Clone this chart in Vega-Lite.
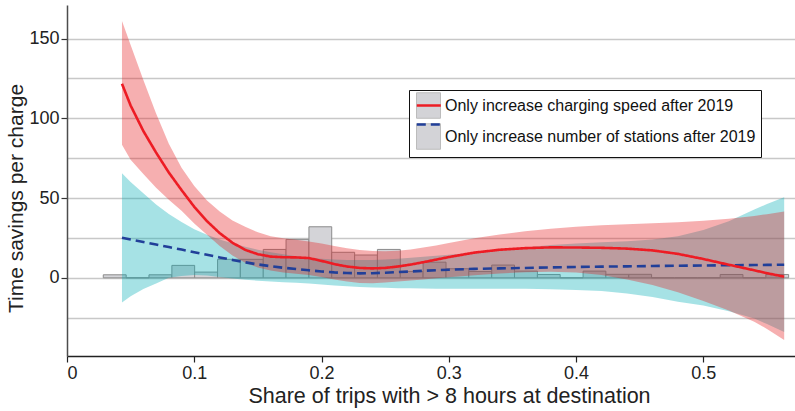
{
  "$schema": "https://vega.github.io/schema/vega-lite/v6.json",
  "width": 728,
  "height": 351,
  "autosize": {"type": "none"},
  "padding": {"left": 67, "top": 5, "right": 0, "bottom": 55},
  "background": "white",
  "config": {
    "view": {"stroke": null},
    "font": "Liberation Sans",
    "axis": {"labelFont": "Liberation Sans", "titleFont": "Liberation Sans", "titleFontWeight": "normal", "labelColor": "#222", "titleColor": "#222"},
    "legend": {"labelFont": "Liberation Sans"}
  },
  "datasets": {
    "hist": [
      {"bin_start": 0.0285, "bin_end": 0.0465, "count": 1.9},
      {"bin_start": 0.0465, "bin_end": 0.0644, "count": 0},
      {"bin_start": 0.0644, "bin_end": 0.0824, "count": 1.9},
      {"bin_start": 0.0824, "bin_end": 0.1003, "count": 7.8},
      {"bin_start": 0.1003, "bin_end": 0.1183, "count": 3.6},
      {"bin_start": 0.1183, "bin_end": 0.1362, "count": 11.6},
      {"bin_start": 0.1362, "bin_end": 0.1542, "count": 11.6},
      {"bin_start": 0.1542, "bin_end": 0.1721, "count": 17.8},
      {"bin_start": 0.1721, "bin_end": 0.1901, "count": 24.1},
      {"bin_start": 0.1901, "bin_end": 0.2080, "count": 32.0},
      {"bin_start": 0.2080, "bin_end": 0.2260, "count": 16.0},
      {"bin_start": 0.2260, "bin_end": 0.2439, "count": 14.3},
      {"bin_start": 0.2439, "bin_end": 0.2619, "count": 17.8},
      {"bin_start": 0.2619, "bin_end": 0.2798, "count": 4.0},
      {"bin_start": 0.2798, "bin_end": 0.2978, "count": 9.8},
      {"bin_start": 0.2978, "bin_end": 0.3157, "count": 5.7},
      {"bin_start": 0.3157, "bin_end": 0.3337, "count": 4.0},
      {"bin_start": 0.3337, "bin_end": 0.3516, "count": 8.0},
      {"bin_start": 0.3516, "bin_end": 0.3696, "count": 4.2},
      {"bin_start": 0.3696, "bin_end": 0.3875, "count": 2.1},
      {"bin_start": 0.3875, "bin_end": 0.4055, "count": 0},
      {"bin_start": 0.4055, "bin_end": 0.4234, "count": 4.2},
      {"bin_start": 0.4234, "bin_end": 0.4414, "count": 2.2},
      {"bin_start": 0.4414, "bin_end": 0.4593, "count": 2.2},
      {"bin_start": 0.4593, "bin_end": 0.4773, "count": 0},
      {"bin_start": 0.4773, "bin_end": 0.4952, "count": 0},
      {"bin_start": 0.4952, "bin_end": 0.5132, "count": 0},
      {"bin_start": 0.5132, "bin_end": 0.5311, "count": 2.1},
      {"bin_start": 0.5311, "bin_end": 0.5491, "count": 0},
      {"bin_start": 0.5491, "bin_end": 0.5670, "count": 2.1}
    ],
    "bands": [
      {"x": 0.0432, "series": "Only increase number of stations after 2019", "lo": -15.5, "hi": 65.6},
      {"x": 0.05, "series": "Only increase number of stations after 2019", "lo": -11.5, "hi": 60},
      {"x": 0.06, "series": "Only increase number of stations after 2019", "lo": -7, "hi": 53},
      {"x": 0.07, "series": "Only increase number of stations after 2019", "lo": -3.5, "hi": 46},
      {"x": 0.08, "series": "Only increase number of stations after 2019", "lo": 0, "hi": 40},
      {"x": 0.09, "series": "Only increase number of stations after 2019", "lo": 1.2, "hi": 35},
      {"x": 0.10, "series": "Only increase number of stations after 2019", "lo": 1.7, "hi": 30.5},
      {"x": 0.11, "series": "Only increase number of stations after 2019", "lo": 1.4, "hi": 27},
      {"x": 0.12, "series": "Only increase number of stations after 2019", "lo": 0.5, "hi": 24},
      {"x": 0.13, "series": "Only increase number of stations after 2019", "lo": -0.4, "hi": 21.6},
      {"x": 0.14, "series": "Only increase number of stations after 2019", "lo": -1.2, "hi": 19.5},
      {"x": 0.15, "series": "Only increase number of stations after 2019", "lo": -1.8, "hi": 17.6},
      {"x": 0.16, "series": "Only increase number of stations after 2019", "lo": -2.3, "hi": 16},
      {"x": 0.17, "series": "Only increase number of stations after 2019", "lo": -2.7, "hi": 14.7},
      {"x": 0.18, "series": "Only increase number of stations after 2019", "lo": -3.1, "hi": 13.5},
      {"x": 0.19, "series": "Only increase number of stations after 2019", "lo": -3.6, "hi": 12.6},
      {"x": 0.20, "series": "Only increase number of stations after 2019", "lo": -4.2, "hi": 12},
      {"x": 0.21, "series": "Only increase number of stations after 2019", "lo": -4.8, "hi": 11.5},
      {"x": 0.22, "series": "Only increase number of stations after 2019", "lo": -5.3, "hi": 11.2},
      {"x": 0.23, "series": "Only increase number of stations after 2019", "lo": -5.7, "hi": 11.1},
      {"x": 0.24, "series": "Only increase number of stations after 2019", "lo": -6, "hi": 11.2},
      {"x": 0.25, "series": "Only increase number of stations after 2019", "lo": -6.3, "hi": 11.5},
      {"x": 0.26, "series": "Only increase number of stations after 2019", "lo": -6.5, "hi": 12},
      {"x": 0.27, "series": "Only increase number of stations after 2019", "lo": -6.6, "hi": 12.6},
      {"x": 0.28, "series": "Only increase number of stations after 2019", "lo": -6.7, "hi": 13.2},
      {"x": 0.29, "series": "Only increase number of stations after 2019", "lo": -6.8, "hi": 13.9},
      {"x": 0.30, "series": "Only increase number of stations after 2019", "lo": -6.8, "hi": 14.5},
      {"x": 0.32, "series": "Only increase number of stations after 2019", "lo": -6.8, "hi": 15.8},
      {"x": 0.34, "series": "Only increase number of stations after 2019", "lo": -6.8, "hi": 17.3},
      {"x": 0.36, "series": "Only increase number of stations after 2019", "lo": -6.9, "hi": 19},
      {"x": 0.38, "series": "Only increase number of stations after 2019", "lo": -7.1, "hi": 20.5},
      {"x": 0.40, "series": "Only increase number of stations after 2019", "lo": -7.6, "hi": 21.5},
      {"x": 0.42, "series": "Only increase number of stations after 2019", "lo": -8.3, "hi": 22.3},
      {"x": 0.44, "series": "Only increase number of stations after 2019", "lo": -9.8, "hi": 23},
      {"x": 0.46, "series": "Only increase number of stations after 2019", "lo": -12, "hi": 24},
      {"x": 0.48, "series": "Only increase number of stations after 2019", "lo": -15, "hi": 26},
      {"x": 0.50, "series": "Only increase number of stations after 2019", "lo": -17.3, "hi": 30},
      {"x": 0.52, "series": "Only increase number of stations after 2019", "lo": -21, "hi": 35.5},
      {"x": 0.54, "series": "Only increase number of stations after 2019", "lo": -25.5, "hi": 42.8},
      {"x": 0.55, "series": "Only increase number of stations after 2019", "lo": -29, "hi": 46.3},
      {"x": 0.5635, "series": "Only increase number of stations after 2019", "lo": -34, "hi": 50.5},
      {"x": 0.0432, "series": "Only increase charging speed after 2019", "lo": 83.4, "hi": 161},
      {"x": 0.05, "series": "Only increase charging speed after 2019", "lo": 74, "hi": 146},
      {"x": 0.06, "series": "Only increase charging speed after 2019", "lo": 65, "hi": 124},
      {"x": 0.07, "series": "Only increase charging speed after 2019", "lo": 56.5, "hi": 103},
      {"x": 0.08, "series": "Only increase charging speed after 2019", "lo": 49, "hi": 84},
      {"x": 0.09, "series": "Only increase charging speed after 2019", "lo": 42, "hi": 69},
      {"x": 0.10, "series": "Only increase charging speed after 2019", "lo": 34, "hi": 57.5},
      {"x": 0.11, "series": "Only increase charging speed after 2019", "lo": 27, "hi": 48.5},
      {"x": 0.12, "series": "Only increase charging speed after 2019", "lo": 20, "hi": 41.5},
      {"x": 0.13, "series": "Only increase charging speed after 2019", "lo": 14, "hi": 36},
      {"x": 0.14, "series": "Only increase charging speed after 2019", "lo": 9.5, "hi": 32},
      {"x": 0.15, "series": "Only increase charging speed after 2019", "lo": 6.5, "hi": 28.5},
      {"x": 0.16, "series": "Only increase charging speed after 2019", "lo": 4.6, "hi": 26},
      {"x": 0.17, "series": "Only increase charging speed after 2019", "lo": 3.3, "hi": 24.8},
      {"x": 0.18, "series": "Only increase charging speed after 2019", "lo": 2.6, "hi": 23.8},
      {"x": 0.19, "series": "Only increase charging speed after 2019", "lo": 1.8, "hi": 22.8},
      {"x": 0.20, "series": "Only increase charging speed after 2019", "lo": 0.5, "hi": 21.5},
      {"x": 0.21, "series": "Only increase charging speed after 2019", "lo": -1, "hi": 20},
      {"x": 0.22, "series": "Only increase charging speed after 2019", "lo": -2.3, "hi": 18.6},
      {"x": 0.23, "series": "Only increase charging speed after 2019", "lo": -3.2, "hi": 17.5},
      {"x": 0.24, "series": "Only increase charging speed after 2019", "lo": -3.4, "hi": 16.8},
      {"x": 0.25, "series": "Only increase charging speed after 2019", "lo": -3, "hi": 16.6},
      {"x": 0.26, "series": "Only increase charging speed after 2019", "lo": -2.3, "hi": 17},
      {"x": 0.27, "series": "Only increase charging speed after 2019", "lo": -1.6, "hi": 17.8},
      {"x": 0.28, "series": "Only increase charging speed after 2019", "lo": -1, "hi": 19},
      {"x": 0.29, "series": "Only increase charging speed after 2019", "lo": -0.3, "hi": 20.3},
      {"x": 0.30, "series": "Only increase charging speed after 2019", "lo": 0.4, "hi": 21.8},
      {"x": 0.32, "series": "Only increase charging speed after 2019", "lo": 1.6, "hi": 24.8},
      {"x": 0.34, "series": "Only increase charging speed after 2019", "lo": 2.7, "hi": 27.2},
      {"x": 0.36, "series": "Only increase charging speed after 2019", "lo": 3.5, "hi": 29.2},
      {"x": 0.38, "series": "Only increase charging speed after 2019", "lo": 3.8, "hi": 30.8},
      {"x": 0.40, "series": "Only increase charging speed after 2019", "lo": 3.3, "hi": 32},
      {"x": 0.42, "series": "Only increase charging speed after 2019", "lo": 1.8, "hi": 32.9},
      {"x": 0.44, "series": "Only increase charging speed after 2019", "lo": -1, "hi": 33.6},
      {"x": 0.46, "series": "Only increase charging speed after 2019", "lo": -4.5, "hi": 34.2},
      {"x": 0.48, "series": "Only increase charging speed after 2019", "lo": -9, "hi": 34.9},
      {"x": 0.50, "series": "Only increase charging speed after 2019", "lo": -14.5, "hi": 35.8},
      {"x": 0.52, "series": "Only increase charging speed after 2019", "lo": -20.5, "hi": 37},
      {"x": 0.54, "series": "Only increase charging speed after 2019", "lo": -27.5, "hi": 38.8},
      {"x": 0.55, "series": "Only increase charging speed after 2019", "lo": -32, "hi": 39.9},
      {"x": 0.5635, "series": "Only increase charging speed after 2019", "lo": -39, "hi": 41.5}
    ],
    "fits": [
      {"x": 0.0432, "series": "Only increase number of stations after 2019", "fit": 25.1},
      {"x": 0.05, "series": "Only increase number of stations after 2019", "fit": 24.0},
      {"x": 0.06, "series": "Only increase number of stations after 2019", "fit": 22.4},
      {"x": 0.07, "series": "Only increase number of stations after 2019", "fit": 20.9},
      {"x": 0.08, "series": "Only increase number of stations after 2019", "fit": 19.3},
      {"x": 0.09, "series": "Only increase number of stations after 2019", "fit": 17.7},
      {"x": 0.10, "series": "Only increase number of stations after 2019", "fit": 16.0},
      {"x": 0.11, "series": "Only increase number of stations after 2019", "fit": 14.4},
      {"x": 0.12, "series": "Only increase number of stations after 2019", "fit": 12.8},
      {"x": 0.13, "series": "Only increase number of stations after 2019", "fit": 11.2},
      {"x": 0.14, "series": "Only increase number of stations after 2019", "fit": 9.7},
      {"x": 0.15, "series": "Only increase number of stations after 2019", "fit": 8.4},
      {"x": 0.16, "series": "Only increase number of stations after 2019", "fit": 7.3},
      {"x": 0.17, "series": "Only increase number of stations after 2019", "fit": 6.3},
      {"x": 0.18, "series": "Only increase number of stations after 2019", "fit": 5.5},
      {"x": 0.19, "series": "Only increase number of stations after 2019", "fit": 4.7},
      {"x": 0.20, "series": "Only increase number of stations after 2019", "fit": 4.0},
      {"x": 0.21, "series": "Only increase number of stations after 2019", "fit": 3.4},
      {"x": 0.22, "series": "Only increase number of stations after 2019", "fit": 3.0},
      {"x": 0.23, "series": "Only increase number of stations after 2019", "fit": 2.8},
      {"x": 0.24, "series": "Only increase number of stations after 2019", "fit": 2.9},
      {"x": 0.25, "series": "Only increase number of stations after 2019", "fit": 3.2},
      {"x": 0.26, "series": "Only increase number of stations after 2019", "fit": 3.6},
      {"x": 0.27, "series": "Only increase number of stations after 2019", "fit": 4.0},
      {"x": 0.28, "series": "Only increase number of stations after 2019", "fit": 4.4},
      {"x": 0.29, "series": "Only increase number of stations after 2019", "fit": 4.8},
      {"x": 0.30, "series": "Only increase number of stations after 2019", "fit": 5.1},
      {"x": 0.32, "series": "Only increase number of stations after 2019", "fit": 5.6},
      {"x": 0.34, "series": "Only increase number of stations after 2019", "fit": 5.9},
      {"x": 0.36, "series": "Only increase number of stations after 2019", "fit": 6.2},
      {"x": 0.38, "series": "Only increase number of stations after 2019", "fit": 6.5},
      {"x": 0.40, "series": "Only increase number of stations after 2019", "fit": 6.8},
      {"x": 0.42, "series": "Only increase number of stations after 2019", "fit": 7.0},
      {"x": 0.44, "series": "Only increase number of stations after 2019", "fit": 7.2},
      {"x": 0.46, "series": "Only increase number of stations after 2019", "fit": 7.4},
      {"x": 0.48, "series": "Only increase number of stations after 2019", "fit": 7.6},
      {"x": 0.50, "series": "Only increase number of stations after 2019", "fit": 7.7},
      {"x": 0.52, "series": "Only increase number of stations after 2019", "fit": 7.9},
      {"x": 0.54, "series": "Only increase number of stations after 2019", "fit": 8.0},
      {"x": 0.55, "series": "Only increase number of stations after 2019", "fit": 8.1},
      {"x": 0.5635, "series": "Only increase number of stations after 2019", "fit": 8.2},
      {"x": 0.0432, "series": "Only increase charging speed after 2019", "fit": 121.6},
      {"x": 0.05, "series": "Only increase charging speed after 2019", "fit": 108},
      {"x": 0.06, "series": "Only increase charging speed after 2019", "fit": 92},
      {"x": 0.07, "series": "Only increase charging speed after 2019", "fit": 78.5},
      {"x": 0.08, "series": "Only increase charging speed after 2019", "fit": 66},
      {"x": 0.09, "series": "Only increase charging speed after 2019", "fit": 55},
      {"x": 0.10, "series": "Only increase charging speed after 2019", "fit": 44.5},
      {"x": 0.11, "series": "Only increase charging speed after 2019", "fit": 35.5},
      {"x": 0.12, "series": "Only increase charging speed after 2019", "fit": 28},
      {"x": 0.13, "series": "Only increase charging speed after 2019", "fit": 22},
      {"x": 0.14, "series": "Only increase charging speed after 2019", "fit": 17.5},
      {"x": 0.15, "series": "Only increase charging speed after 2019", "fit": 14.8},
      {"x": 0.16, "series": "Only increase charging speed after 2019", "fit": 13.3},
      {"x": 0.17, "series": "Only increase charging speed after 2019", "fit": 12.9},
      {"x": 0.18, "series": "Only increase charging speed after 2019", "fit": 12.8},
      {"x": 0.19, "series": "Only increase charging speed after 2019", "fit": 12.4},
      {"x": 0.20, "series": "Only increase charging speed after 2019", "fit": 10.6},
      {"x": 0.21, "series": "Only increase charging speed after 2019", "fit": 8.6},
      {"x": 0.22, "series": "Only increase charging speed after 2019", "fit": 7.1},
      {"x": 0.23, "series": "Only increase charging speed after 2019", "fit": 6.2},
      {"x": 0.24, "series": "Only increase charging speed after 2019", "fit": 5.9},
      {"x": 0.25, "series": "Only increase charging speed after 2019", "fit": 6.2},
      {"x": 0.26, "series": "Only increase charging speed after 2019", "fit": 7.1},
      {"x": 0.27, "series": "Only increase charging speed after 2019", "fit": 8.3},
      {"x": 0.28, "series": "Only increase charging speed after 2019", "fit": 9.8},
      {"x": 0.29, "series": "Only increase charging speed after 2019", "fit": 11.4},
      {"x": 0.30, "series": "Only increase charging speed after 2019", "fit": 13.0},
      {"x": 0.32, "series": "Only increase charging speed after 2019", "fit": 15.8},
      {"x": 0.34, "series": "Only increase charging speed after 2019", "fit": 17.6},
      {"x": 0.36, "series": "Only increase charging speed after 2019", "fit": 18.6},
      {"x": 0.38, "series": "Only increase charging speed after 2019", "fit": 19.1},
      {"x": 0.40, "series": "Only increase charging speed after 2019", "fit": 19.0},
      {"x": 0.42, "series": "Only increase charging speed after 2019", "fit": 18.8},
      {"x": 0.44, "series": "Only increase charging speed after 2019", "fit": 18.3},
      {"x": 0.46, "series": "Only increase charging speed after 2019", "fit": 17.2},
      {"x": 0.48, "series": "Only increase charging speed after 2019", "fit": 15.0},
      {"x": 0.50, "series": "Only increase charging speed after 2019", "fit": 11.8},
      {"x": 0.52, "series": "Only increase charging speed after 2019", "fit": 8.2},
      {"x": 0.54, "series": "Only increase charging speed after 2019", "fit": 4.7},
      {"x": 0.55, "series": "Only increase charging speed after 2019", "fit": 2.9},
      {"x": 0.5635, "series": "Only increase charging speed after 2019", "fit": 0.7}
    ]
  },
  "layer": [
    {
      "data": {"name": "hist"},
      "mark": {"type": "rect", "fill": "#d4d4d8", "stroke": "#8c8c8c", "strokeWidth": 1},
      "encoding": {
        "x": {
          "field": "bin_start", "type": "quantitative",
          "title": "Share of trips with > 8 hours at destination",
          "scale": {"domain": [0, 0.572], "nice": false, "zero": false},
          "axis": {
            "values": [0, 0.1, 0.2, 0.3, 0.4, 0.5], "format": "~g", "grid": false,
            "domainColor": "#222", "domainWidth": 1.5, "tickColor": "#222", "tickSize": 6, "tickWidth": 1.2,
            "labelFontSize": 18, "labelPadding": 2, "titleFontSize": 21.5, "titlePadding": 3, "titleX": 382
          }
        },
        "x2": {"field": "bin_end"},
        "y": {
          "field": "count", "type": "quantitative",
          "title": "Time savings per charge",
          "scale": {"domain": [-49, 171], "nice": false, "zero": false},
          "axis": {
            "values": [-25, 0, 25, 50, 75, 100, 125, 150],
            "labelExpr": "datum.value % 50 === 0 ? datum.label : ''",
            "tickOpacity": {"condition": {"test": "datum.value % 50 === 0", "value": 1}, "value": 0},
            "grid": true, "gridColor": "#c8c8c8", "gridWidth": 1.3,
            "domainColor": "#4d4d4d", "domainWidth": 1.5, "tickColor": "#333", "tickSize": 6, "tickWidth": 1.2,
            "labelFontSize": 18, "labelPadding": 2, "titleFontSize": 21, "titlePadding": 2, "titleY": 193
          }
        },
        "y2": {"datum": 0}
      }
    },
    {
      "data": {"name": "bands"},
      "mark": {"type": "area"},
      "encoding": {
        "x": {"field": "x", "type": "quantitative", "title": "Share of trips with > 8 hours at destination"},
        "y": {"field": "lo", "type": "quantitative", "title": "Time savings per charge"},
        "y2": {"field": "hi"},
        "fill": {
          "field": "series", "type": "nominal",
          "scale": {
            "domain": ["Only increase charging speed after 2019", "Only increase number of stations after 2019"],
            "range": ["#e41a1c", "#00adb5"]
          },
          "legend": null
        },
        "opacity": {
          "field": "series", "type": "nominal",
          "scale": {"range": [0.35, 0.35]},
          "legend": {
            "orient": "none", "legendX": 342, "legendY": 85, "zindex": 1,
            "title": " ", "titleOrient": "left", "titleFontSize": 1, "titlePadding": 4,
            "padding": 5, "fillColor": "white", "strokeColor": "#111",
            "symbolType": "M-1.2,-1.275H1.2V1.275H-1.2Z", "symbolSize": 400,
            "symbolStrokeWidth": 1, "symbolFillColor": "#84848f", "symbolStrokeColor": "#424242",
            "labelFontSize": 16, "labelColor": "#111", "labelOffset": 6, "labelLimit": 400, "rowPadding": 0
          }
        }
      }
    },
    {
      "data": {"name": "fits"},
      "mark": {"type": "line", "strokeWidth": 2.6},
      "encoding": {
        "x": {"field": "x", "type": "quantitative", "title": "Share of trips with > 8 hours at destination"},
        "y": {"field": "fit", "type": "quantitative", "title": "Time savings per charge"},
        "stroke": {
          "field": "series", "type": "nominal",
          "scale": {"range": ["#ed1c24", "#213f99"]},
          "legend": {
            "orient": "none", "legendX": 351.3, "legendY": 90, "zindex": 2,
            "title": null, "padding": 0,
            "symbolType": "M-1.306,0H1.306", "symbolSize": 338, "symbolStrokeWidth": 2.6,
            "labelFontSize": 16, "labelOpacity": 0, "labelOffset": 6, "labelLimit": 400, "rowPadding": 0
          }
        },
        "strokeDash": {
          "field": "series", "type": "nominal",
          "scale": {"range": [[1, 0], [9, 5]]},
          "legend": {
            "orient": "none", "legendX": 351.3, "legendY": 90, "zindex": 2,
            "title": null, "padding": 0,
            "symbolType": "M-1.306,0H1.306", "symbolSize": 338, "symbolStrokeWidth": 2.6,
            "labelFontSize": 16, "labelOpacity": 0, "labelOffset": 6, "labelLimit": 400, "rowPadding": 0
          }
        }
      }
    }
  ]
}
